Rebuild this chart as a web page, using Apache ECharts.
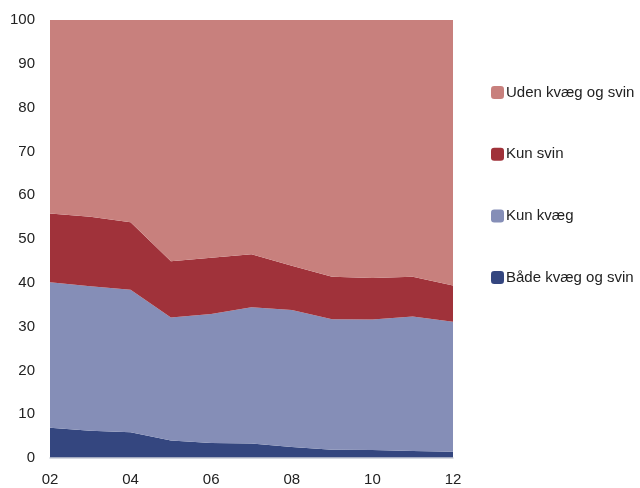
<!DOCTYPE html>
<html>
<head>
<meta charset="utf-8">
<script src="https://cdn.jsdelivr.net/npm/echarts@6/dist/echarts.min.js"></script>
<style>html,body{margin:0;padding:0;background:#fff}#c{width:640px;height:488px}</style>
</head>
<body>
<div id="c"></div>
<script>
var categories = ['02','03','04','05','06','07','08','09','10','11','12'];
var bade = [6.9, 6.2, 5.9, 4.0, 3.4, 3.3, 2.5, 1.9, 1.8, 1.6, 1.4];
var kunKvaeg = [33.2, 33.0, 32.5, 28.1, 29.5, 31.1, 31.3, 29.8, 29.8, 30.7, 29.7];
var kunSvin = [15.7, 15.9, 15.4, 12.8, 12.8, 12.1, 10.1, 9.7, 9.5, 9.1, 8.3];
var uden = [44.2, 44.9, 46.2, 55.1, 54.3, 53.5, 56.1, 58.6, 58.9, 58.6, 60.6];
var names = ['Både kvæg og svin','Kun kvæg','Kun svin','Uden kvæg og svin'];
var colors = ['#34467F','#858EB7','#A0323A','#C8807D'];
var seriesData = [bade, kunKvaeg, kunSvin, uden];

var font = '"Liberation Sans", Arial, sans-serif';
var chart = echarts.init(document.getElementById('c'));
chart.setOption({
  animation: false,
  grid: {left: 50, right: 187, top: 20, bottom: 30},
  legend: {
    orient: 'vertical',
    left: 486,
    top: 80,
    itemWidth: 13,
    itemHeight: 13,
    itemGap: 46.7,
    icon: 'roundRect',
    data: [names[3], names[2], names[1], names[0]],
    textStyle: {fontFamily: font, fontSize: 15, color: '#222', padding: [0,0,0,-3]}
  },
  xAxis: {
    type: 'category',
    data: categories,
    boundaryGap: false,
    axisTick: {show: false},
    axisLine: {show: true, onZero: false, lineStyle: {color: '#c8ccd6', width: 1.5}},
    axisLabel: {interval: 1, margin: 14, fontFamily: font, fontSize: 15, color: '#222'},
    splitLine: {show: false},
    z: 10
  },
  yAxis: {
    type: 'value',
    min: 0,
    max: 100,
    interval: 10,
    axisLine: {show: false},
    axisTick: {show: false},
    splitLine: {show: false},
    axisLabel: {margin: 15, fontFamily: font, fontSize: 15, color: '#222'}
  },
  series: seriesData.map(function (d, i) {
    return {
      name: names[i],
      type: 'line',
      stack: 'total',
      data: d,
      symbol: 'none',
      lineStyle: {width: 0},
      itemStyle: {color: colors[i]},
      areaStyle: {color: colors[i], opacity: 1}
    };
  })
});
</script>
</body>
</html>
